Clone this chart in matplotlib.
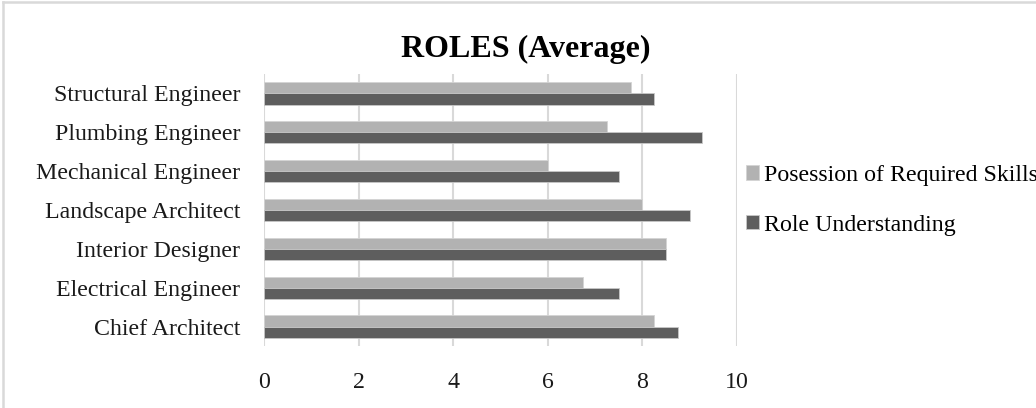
import matplotlib.pyplot as plt
import numpy as np

roles = ['Chief Architect', 'Electrical Engineer', 'Interior Designer',
         'Landscape Architect', 'Mechanical Engineer', 'Plumbing Engineer',
         'Structural Engineer']
skills = [8.25, 6.75, 8.5, 8.0, 6.0, 7.25, 7.75]
understanding = [8.75, 7.5, 8.5, 9.0, 7.5, 9.25, 8.25]
xticks = [0, 2, 4, 6, 8, 10]

plt.rcParams['font.family'] = ['Liberation Serif', 'DejaVu Serif']

fig = plt.figure(figsize=(10.36, 4.08), dpi=100)
W, H = 1036, 408
ax = fig.add_axes([264 / W, 1 - 346 / H, (737 - 264) / W, (346 - 74) / H])

y = np.arange(len(roles))
h = 0.285
ax.barh(y + h / 2, skills, height=h, color='#b2b2b2', edgecolor='#d4d4d4',
        linewidth=0.6, label='Posession of Required Skills', zorder=3)
ax.barh(y - h / 2, understanding, height=h, color='#5e5e5e', edgecolor='#c8c8c8',
        linewidth=0.6, label='Role Understanding', zorder=3)

ax.set_xlim(0, 10)
ax.set_ylim(-0.5, len(roles) - 0.5)
ax.set_xticks(xticks)
ax.set_yticks(y)
ax.set_yticklabels(roles)
ax.tick_params(axis='both', length=0, labelsize=17.2, colors='#1a1a1a')
ax.tick_params(axis='x', pad=19)
ax.tick_params(axis='y', pad=17)
ax.grid(axis='x', color='#d9d9d9', linewidth=1.5, zorder=0)
for s in ax.spines.values():
    s.set_visible(False)

fig.text(526 / W, 1 - 49 / H, 'ROLES (Average)', ha='center', va='center',
         fontsize=23, fontweight='bold')

fig.legend(loc='upper left', bbox_to_anchor=(746 / W, 1 - 165 / H), frameon=False,
           fontsize=17.2, handlelength=0.55, handleheight=0.55, handletextpad=0.2,
           labelspacing=1.2, borderaxespad=0, borderpad=0)

# chart frame, left and top edges only
fig.add_artist(plt.Line2D([3 / W, 3 / W], [0, 1 - 2 / H], color='#d9d9d9', linewidth=1.8))
fig.add_artist(plt.Line2D([3 / W, 1], [1 - 2 / H, 1 - 2 / H], color='#d9d9d9', linewidth=1.8))

fig.savefig('out.png', dpi=100)
